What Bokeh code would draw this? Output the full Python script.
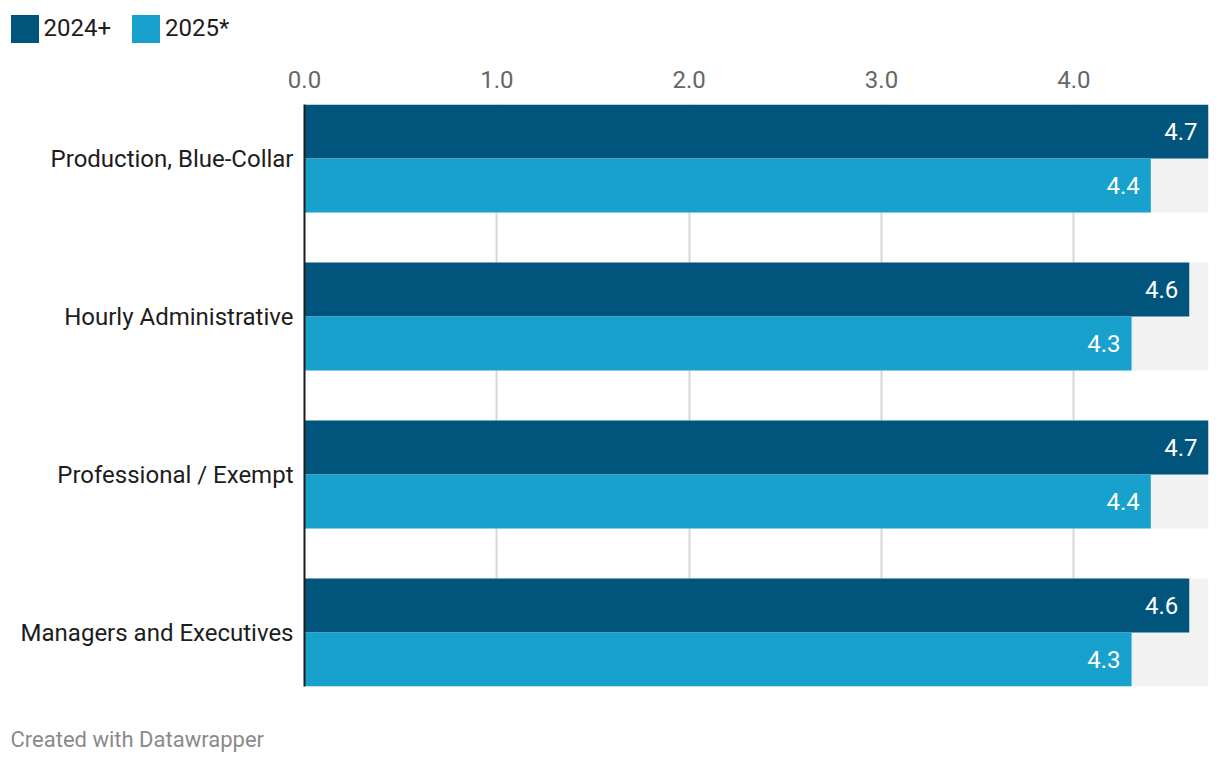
from bokeh.plotting import figure
from bokeh.layouts import column
from bokeh.models import Range1d, FixedTicker, PrintfTickFormatter, Legend, LegendItem, Label
from bokeh.core.properties import value
from bokeh.embed import file_html
from bokeh.resources import INLINE

categories = ["Production, Blue-Collar", "Hourly Administrative",
              "Professional / Exempt", "Managers and Executives"]
series_names = ["2024+", "2025*"]
values_2024 = [4.7, 4.6, 4.7, 4.6]
values_2025 = [4.4, 4.3, 4.4, 4.3]
x_ticks = [0, 1, 2, 3, 4]
colors = ["#01547c", "#18a1cd"]
footer = "Created with Datawrapper"

FONT = "Roboto"
FS = "24px"
W = 1212
BAR_H = 54 / 158
idx = list(range(len(categories)))
xmax = max(values_2024 + values_2025)


def bare(fig):
    fig.outline_line_color = None
    fig.background_fill_color = "white"
    fig.border_fill_color = "white"
    fig.xgrid.grid_line_color = None
    fig.ygrid.grid_line_color = None
    fig.frame_align = False
    return fig


# ---- legend strip ----
lf = bare(figure(width=W, height=50, output_backend="svg", toolbar_location=None,
                 x_range=Range1d(0, 1), y_range=Range1d(0, 1),
                 x_axis_location=None, y_axis_location=None,
                 min_border=0))
d1 = lf.hbar(y=[-1], left=[-1], right=[-1], height=0, color=colors[0], line_color=None)
d2 = lf.hbar(y=[-1], left=[-1], right=[-1], height=0, color=colors[1], line_color=None)
legend = Legend(items=[LegendItem(label=series_names[0], renderers=[d1]),
                       LegendItem(label=series_names[1], renderers=[d2])],
                location=(6.5, 4.5), orientation="horizontal",
                glyph_width=35, glyph_height=35, label_standoff=2, spacing=17,
                padding=0, margin=0, border_line_color=None, background_fill_alpha=0,
                label_text_font=FONT, label_text_font_size=FS, label_text_color="#1d1d1d")
lf.add_layout(legend, "center")

# ---- main chart ----
p = bare(figure(width=W, height=640, output_backend="svg", toolbar_location=None,
                x_range=Range1d(0, xmax),
                y_range=Range1d(len(categories) - 1 + BAR_H, -BAR_H),
                x_axis_location="above",
                min_border_left=304, min_border_right=4,
                min_border_top=54, min_border_bottom=4))

# background bands
p.hbar(y=idx, left=0, right=xmax, height=2 * BAR_H, color="#f2f2f2", line_color=None)

y_dark = [i - BAR_H / 2 for i in idx]
y_light = [i + BAR_H / 2 for i in idx]
p.hbar(y=y_dark, left=0, right=values_2024, height=BAR_H, color=colors[0], line_color=None)
p.hbar(y=y_light, left=0, right=values_2025, height=BAR_H, color=colors[1], line_color=None)

for ys, vals in ((y_dark, values_2024), (y_light, values_2025)):
    p.text(x=vals, y=ys, text=[f"{v:.1f}" for v in vals], x_offset=-11,
           text_align="right", text_baseline="middle", text_color="white",
           text_font=value(FONT), text_font_size=FS)

xa = p.xaxis[0]
xa.ticker = FixedTicker(ticks=x_ticks)
xa.formatter = PrintfTickFormatter(format="%.1f")
xa.axis_line_color = None
xa.major_tick_line_color = None
xa.major_tick_out = 0
xa.major_tick_in = 0
xa.minor_tick_line_color = None
xa.major_label_standoff = 17
xa.major_label_text_font = FONT
xa.major_label_text_font_size = FS
xa.major_label_text_color = "#666666"

ya = p.yaxis[0]
ya.ticker = FixedTicker(ticks=idx)
ya.major_label_overrides = {i: c for i, c in zip(idx, categories)}
ya.axis_line_color = "#1d1d1d"
ya.axis_line_width = 2
ya.major_tick_line_color = None
ya.major_tick_out = 0
ya.major_tick_in = 0
ya.minor_tick_line_color = None
ya.major_label_standoff = 11
ya.major_label_text_font = FONT
ya.major_label_text_font_size = FS
ya.major_label_text_color = "#1d1d1d"

p.xgrid.ticker = FixedTicker(ticks=x_ticks[1:])
p.xgrid.grid_line_color = "#d6d6d6"
p.xgrid.grid_line_width = 2

# ---- footer strip ----
ff = bare(figure(width=W, height=66, output_backend="svg", toolbar_location=None,
                 x_range=Range1d(0, 1), y_range=Range1d(0, 1),
                 x_axis_location=None, y_axis_location=None,
                 min_border=0))
ff.add_layout(Label(x=10, y=17, x_units="screen", y_units="screen", text=footer,
                    text_baseline="middle", text_font=FONT, text_font_size="22px",
                    text_color="#8a8a8a"))

layout = column(lf, p, ff, spacing=0)
open("out.html", "w").write(file_html(layout, INLINE))
